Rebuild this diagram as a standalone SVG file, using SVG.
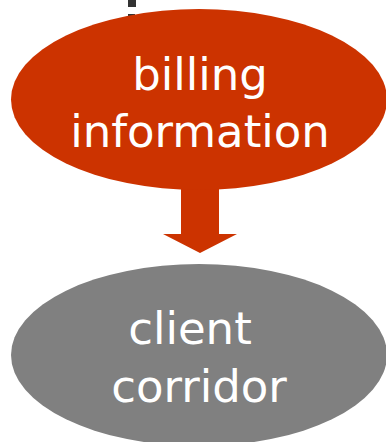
<svg xmlns="http://www.w3.org/2000/svg" width="386" height="442" viewBox="0 0 386 442">
<style>
.t{font-family:"DejaVu Sans","Liberation Sans",sans-serif;font-size:45px;fill:#ffffff;text-anchor:middle}
</style>
<rect width="386" height="442" fill="#ffffff"/>
<rect x="128" y="0" width="8" height="7" fill="#333333"/>
<rect x="128" y="14" width="7" height="2" fill="#333333"/>
<g id="connectors">
<polygon points="181,180 219,180 219,234 237,234 200,253 163,234 181,234" fill="#cc3300"/>
</g>
<g id="billing">
<ellipse cx="199" cy="99.5" rx="188" ry="90.5" fill="#cc3300"/>
<text class="t" x="200" y="90">billing</text>
<text class="t" x="200" y="147">information</text>
</g>
<g id="client">
<ellipse cx="199" cy="355" rx="188" ry="91" fill="#808080"/>
<text class="t" x="190" y="344">client</text>
<text class="t" x="199" y="402">corridor</text>
</g>
</svg>
